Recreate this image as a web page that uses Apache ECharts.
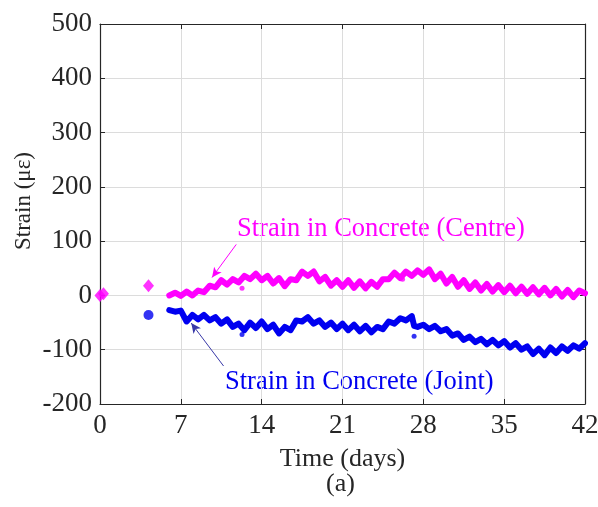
<!DOCTYPE html>
<html>
<head>
<meta charset="utf-8">
<script src="https://cdn.jsdelivr.net/npm/echarts@6/dist/echarts.min.js"></script>
<style>
  html, body { margin: 0; padding: 0; background: #fff; }
  #chart { width: 598px; height: 507px; }
</style>
</head>
<body>
<div id="chart"></div>
<script>
// Axis ticks
const xTicks = [0, 7, 14, 21, 28, 35, 42];
const yTicks = [-200, -100, 0, 100, 200, 300, 400, 500];

// Early readings (days, strain)
const centreEarlyDays = [0, 0.3, 4.2];
const centreEarlyStrain = [0, 3, 18];
const jointEarlyDays = [4.2];
const jointEarlyStrain = [-36];

// Continuous logging, centre gauge (half-day steps from day 6)
const centreDays = [6, 6.5, 7, 7.5, 8, 8.5, 9, 9.5, 10, 10.5, 11, 11.5, 12, 12.5, 13, 13.5, 14, 14.5, 15, 15.5,
  16, 16.5, 17, 17.5, 18, 18.5, 19, 19.5, 20, 20.5, 21, 21.5, 22, 22.5, 23, 23.5, 24, 24.5, 25, 25.5,
  26, 26.5, 27, 27.5, 28, 28.5, 29, 29.5, 30, 30.5, 31, 31.5, 32, 32.5, 33, 33.5, 34, 34.5, 35, 35.5,
  36, 36.5, 37, 37.5, 38, 38.5, 39, 39.5, 40, 40.5, 41, 41.5, 42];
const centreStrain = [0, 5, -1, 7, 0, 9, 6, 18, 15, 28, 20, 30, 24, 36, 30, 40, 28, 36, 22, 32,
  17, 30, 28, 44, 36, 44, 26, 34, 18, 28, 16, 28, 14, 26, 13, 25, 16, 30, 30, 42,
  32, 44, 36, 46, 38, 48, 30, 40, 22, 34, 16, 28, 12, 24, 9, 21, 7, 19, 6, 18,
  4, 16, 3, 15, 2, 14, 0, 12, -2, 10, -3, 9, 4];

// Continuous logging, joint gauge
const jointDays = [6, 6.5, 7, 7.5, 8, 8.5, 9, 9.5, 10, 10.5, 11, 11.5, 12, 12.5, 13, 13.5, 14, 14.5, 15, 15.5,
  16, 16.5, 17, 17.5, 18, 18.5, 19, 19.5, 20, 20.5, 21, 21.5, 22, 22.5, 23, 23.5, 24, 24.5, 25, 25.5,
  26, 26.5, 27, 27.2, 27.5, 28, 28.5, 29, 29.5, 30, 30.5, 31, 31.5, 32, 32.5, 33, 33.5, 34, 34.5, 35, 35.5,
  36, 36.5, 37, 37.5, 38, 38.5, 39, 39.5, 40, 40.5, 41, 41.5, 42];
const jointStrain = [-27, -30, -28, -48, -36, -44, -36, -46, -40, -52, -44, -58, -52, -64, -50, -60, -48, -62, -54, -70,
  -58, -64, -46, -48, -40, -52, -46, -58, -50, -62, -52, -64, -54, -66, -56, -68, -58, -62, -48, -52,
  -42, -46, -38, -56, -58, -54, -62, -56, -66, -62, -74, -70, -82, -76, -86, -80, -90, -82, -92, -84, -96,
  -88, -100, -94, -108, -98, -110, -96, -106, -94, -102, -92, -98, -88];

// Stray single readings
const centreStrayDays = [12.3, 26.2];
const centreStrayStrain = [13, 30];
const jointStrayDays = [12.3, 27.2];
const jointStrayStrain = [-72, -75];

const zip = (a, b) => a.map((v, i) => [v, b[i]]);

const MAGENTA = '#ff00ff';
const BLUE = '#0000f0';
const AXIS = '#262626';
const FONT = '"Liberation Serif", "DejaVu Serif", serif';

const chart = echarts.init(document.getElementById('chart'), null, { renderer: 'canvas' });

const xBase = {
  type: 'value', min: 0, max: 42, interval: 7,
  axisLine: { show: true, onZero: false, lineStyle: { color: AXIS, width: 1.2 } },
  axisTick: { show: true, inside: true, length: 5, lineStyle: { color: AXIS } },
  splitLine: { show: false }
};
const yBase = {
  type: 'value', min: -200, max: 500, interval: 100,
  axisLine: { show: true, onZero: false, lineStyle: { color: AXIS, width: 1.2 } },
  axisTick: { show: true, inside: true, length: 5, lineStyle: { color: AXIS } },
  splitLine: { show: false }
};

chart.setOption({
  animation: false,
  backgroundColor: '#fff',
  grid: { left: 100, right: 13, top: 24, bottom: 103, containLabel: false, outerBoundsMode: 'none' },
  xAxis: [
    Object.assign({}, xBase, {
      position: 'bottom',
      axisLabel: { color: AXIS, fontFamily: FONT, fontSize: 27, margin: 8,
        formatter: v => xTicks.includes(v) ? String(v) : '' },
      splitLine: { show: true, lineStyle: { color: '#dcdcdc', width: 1 } },
      name: 'Time (days)', nameLocation: 'middle', nameGap: 42,
      nameTextStyle: { color: AXIS, fontFamily: FONT, fontSize: 26 }
    }),
    Object.assign({}, xBase, { position: 'top', axisLabel: { show: false } })
  ],
  yAxis: [
    Object.assign({}, yBase, {
      position: 'left',
      axisLabel: { color: AXIS, fontFamily: FONT, fontSize: 27, margin: 8,
        formatter: v => yTicks.includes(v) ? String(v) : '' }
      ,
      splitLine: { show: true, lineStyle: { color: '#dcdcdc', width: 1 } }
    }),
    Object.assign({}, yBase, { position: 'right', axisLabel: { show: false } })
  ],
  graphic: [
    { type: 'text', x: 24, y: 201, rotation: Math.PI / 2,
      style: { text: 'Strain (με)', fill: AXIS, font: '23px ' + FONT, align: 'center', verticalAlign: 'middle' } },
    { type: 'text', left: 237, top: 216,
      style: { text: 'Strain in Concrete (Centre)', fill: MAGENTA, font: '26.5px ' + FONT } },
    { type: 'text', left: 225, top: 369,
      style: { text: 'Strain in Concrete (Joint)', fill: BLUE, font: '26.5px ' + FONT } },
    { type: 'text', left: 326, top: 471,
      style: { text: '(a)', fill: AXIS, font: '26px ' + FONT } }
  ],
  series: [
    {
      name: 'Joint', type: 'line', data: zip(jointDays, jointStrain),
      showSymbol: false, symbol: 'none',
      lineStyle: { color: BLUE, width: 6, join: 'round', cap: 'round' },
      z: 3,
      markLine: {
        silent: true, symbol: ['none', 'arrow'], symbolSize: [7, 10],
        lineStyle: { color: '#3838a8', width: 1, type: 'solid' }, label: { show: false },
        data: [[{ coord: [10.7, -130] }, { coord: [7.9, -51] }]]
      }
    },
    {
      name: 'Centre', type: 'line', data: zip(centreDays, centreStrain),
      showSymbol: false, symbol: 'none',
      lineStyle: { color: MAGENTA, width: 6, join: 'round', cap: 'round' },
      z: 3,
      markLine: {
        silent: true, symbol: ['none', 'arrow'], symbolSize: [7, 10],
        lineStyle: { color: MAGENTA, width: 1, type: 'solid' }, label: { show: false },
        data: [[{ coord: [11.8, 94] }, { coord: [9.7, 33] }]]
      }
    },
    {
      name: 'Joint early', type: 'scatter', data: zip(jointEarlyDays, jointEarlyStrain),
      symbol: 'circle', symbolSize: 10, itemStyle: { color: BLUE }, z: 4
    },
    {
      name: 'Centre early', type: 'scatter', data: zip(centreEarlyDays, centreEarlyStrain),
      symbol: 'diamond', symbolSize: [11, 13], itemStyle: { color: MAGENTA }, z: 4
    },
    {
      name: 'Joint stray', type: 'scatter', data: zip(jointStrayDays, jointStrayStrain),
      symbol: 'circle', symbolSize: 5, itemStyle: { color: BLUE }, z: 4
    },
    {
      name: 'Centre stray', type: 'scatter', data: zip(centreStrayDays, centreStrayStrain),
      symbol: 'circle', symbolSize: 5, itemStyle: { color: MAGENTA }, z: 4
    }
  ]
});
</script>
</body>
</html>
